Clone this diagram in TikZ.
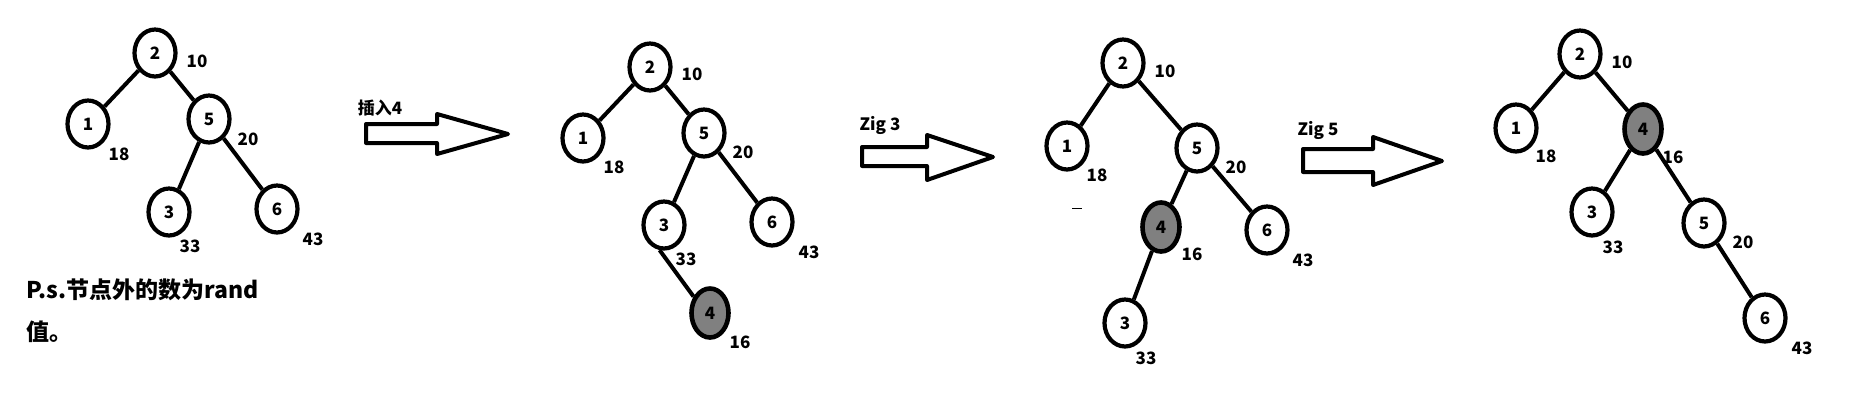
\documentclass[tikz,border=0pt]{standalone}
\usepackage{fontspec}
\setmainfont{Noto Sans CJK SC}
\newfontfamily\cjk{Noto Sans CJK SC}
\usetikzlibrary{shapes.geometric}
\tikzset{
  tn/.style={ellipse,draw=black,line width=4.2pt,fill=white,inner sep=0pt,
    minimum width=41pt,minimum height=47pt,font=\bfseries\fontsize{17}{17}\selectfont},
  gn/.style={tn,fill=black!50,line width=4.6pt,minimum width=37pt,minimum height=49pt},
  val/.style={font=\bfseries\fontsize{17}{17}\selectfont,inner sep=0pt},
  edge/.style={line width=4pt},
  bigarrow/.style={line width=4pt,line join=round},
  arrlabel/.style={font=\bfseries\cjk\fontsize{17}{17}\selectfont,inner sep=0pt},
  note/.style={font=\bfseries\cjk\fontsize{23}{23}\selectfont,inner sep=0pt,anchor=west}
}
\begin{document}
\begin{tikzpicture}[x=1pt,y=-1pt]
\useasboundingbox (0,0) rectangle (1849,394);
% ---------- tree 1 ----------
\node[tn] (a2) at (155,53) {2};
\node[tn] (a1) at (88,124) {1};
\node[tn] (a5) at (209,119) {5};
\node[tn] (a3) at (169,212) {3};
\node[tn] (a6) at (277,209) {6};
\draw[edge] (a2) -- (a1);
\draw[edge] (a2) -- (a5);
\draw[edge] (a5) -- (a3);
\draw[edge] (a5) -- (a6);
\node[val] (a2v) at (197,61) {10};
\node[val] (a1v) at (119,154) {18};
\node[val] (a5v) at (248,139) {20};
\node[val] (a3v) at (190,246) {33};
\node[val] (a6v) at (313,239) {43};
\node[note] (n1) at (26,290) {P.s.节点外的数为rand};
\node[note] (n2) at (26,332) {值。};
% ---------- arrow 1 ----------
\draw[bigarrow] (366,124) -- (437,124) -- (437,114) -- (508,134) -- (437,154) -- (437,143) -- (366,143) -- cycle;
\node[arrlabel] (l1) at (380,108) {插入4};
% ---------- tree 2 ----------
\node[tn] (b2) at (650,67) {2};
\node[tn] (b1) at (583,138) {1};
\node[tn] (b5) at (704,133) {5};
\node[tn] (b3) at (664,225) {3};
\node[tn] (b6) at (772,222) {6};
\node[gn] (b4) at (710,313) {4};
\draw[edge] (b2) -- (b1);
\draw[edge] (b2) -- (b5);
\draw[edge] (b5) -- (b3);
\draw[edge] (b5) -- (b6);
\draw[edge] (b3.-100) -- (b4.135);
\node[val] (b2v) at (692,74) {10};
\node[val] (b1v) at (614,167) {18};
\node[val] (b5v) at (743,152) {20};
\node[val] (b3v) at (686,259) {33};
\node[val] (b6v) at (809,252) {43};
\node[val] (b4v) at (740,342) {16};
% ---------- arrow 2 ----------
\draw[bigarrow] (862,147) -- (927,147) -- (927,135) -- (993,157) -- (927,180) -- (927,166) -- (862,166) -- cycle;
\node[arrlabel] (l2) at (880,125) {Zig 3};
% ---------- tree 3 ----------
\node[tn] (c2) at (1123,63) {2};
\node[tn] (c1) at (1067,146) {1};
\node[tn] (c5) at (1197,148) {5};
\node[gn] (c4) at (1161,227) {4};
\node[tn] (c6) at (1267,230) {6};
\node[tn] (c3) at (1125,323) {3};
\draw[edge] (c2) -- (c1);
\draw[edge] (c2) -- (c5);
\draw[edge] (c5) -- (c4);
\draw[edge] (c5) -- (c6);
\draw[edge] (c4) -- (c3);
\node[val] (c2v) at (1165,71) {10};
\node[val] (c1v) at (1097,175) {18};
\node[val] (c5v) at (1236,167) {20};
\node[val] (c4v) at (1192,254) {16};
\node[val] (c6v) at (1303,260) {43};
\node[val] (c3v) at (1146,358) {33};
\draw[line width=1pt] (1072,208) -- (1082,208);
% ---------- arrow 3 ----------
\draw[bigarrow] (1303,149) -- (1373,149) -- (1373,137) -- (1442,161) -- (1373,185) -- (1373,172) -- (1303,172) -- cycle;
\node[arrlabel] (l3) at (1318,130) {Zig 5};
% ---------- tree 4 ----------
\node[tn] (d2) at (1580,54) {2};
\node[tn] (d1) at (1516,128) {1};
\node[gn] (d4) at (1643,129) {4};
\node[tn] (d3) at (1592,212) {3};
\node[tn] (d5) at (1704,223) {5};
\node[tn] (d6) at (1765,318) {6};
\draw[edge] (d2) -- (d1);
\draw[edge] (d2) -- (d4);
\draw[edge] (d4) -- (d3);
\draw[edge] (d4) -- (d5);
\draw[edge] (d5) -- (d6);
\node[val] (d2v) at (1622,62) {10};
\node[val] (d1v) at (1546,156) {18};
\node[val] (d4v) at (1673,157) {16};
\node[val] (d3v) at (1613,247) {33};
\node[val] (d5v) at (1743,242) {20};
\node[val] (d6v) at (1802,348) {43};
\end{tikzpicture}
\end{document}
